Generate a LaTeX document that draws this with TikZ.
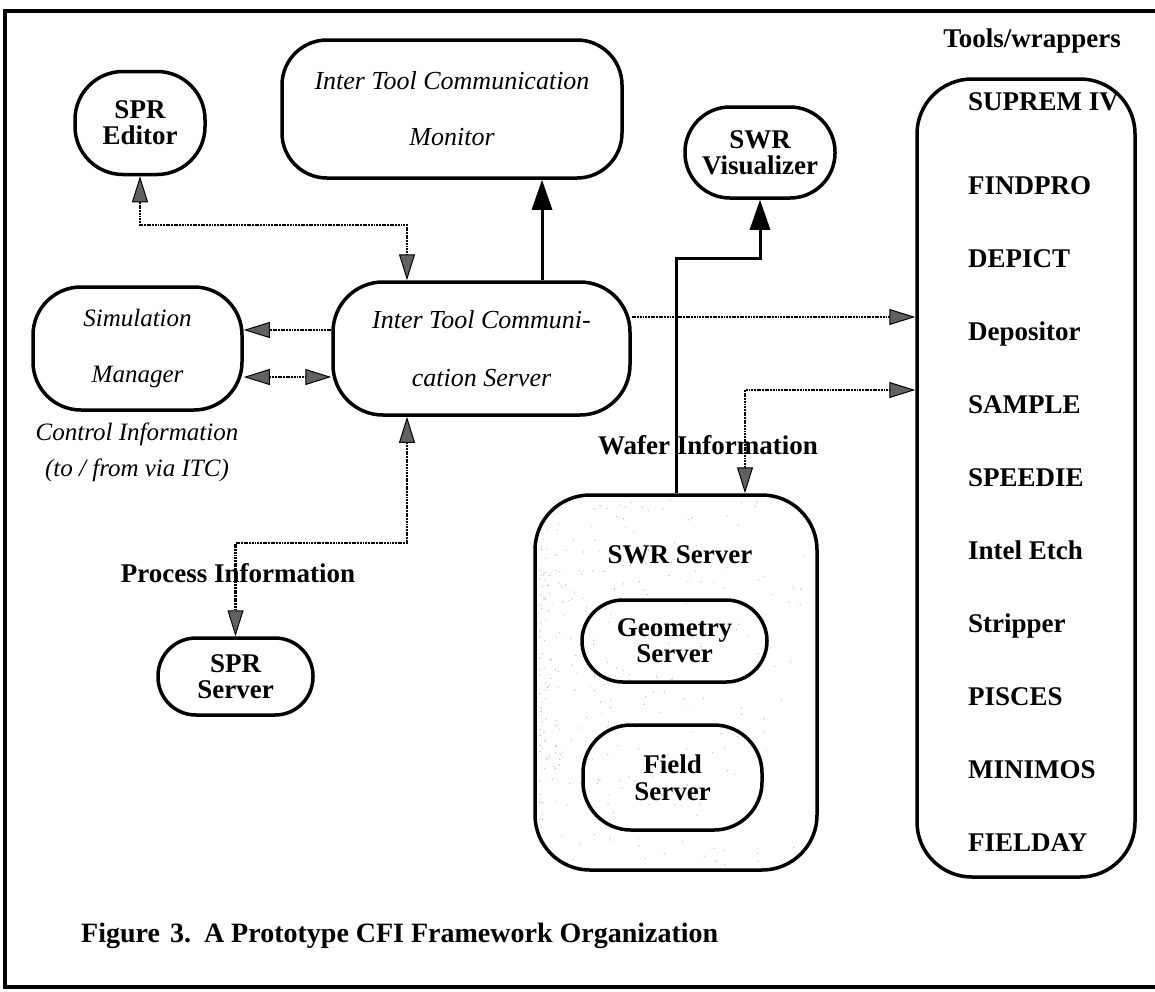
\documentclass[tikz,border=0pt]{standalone}
\usepackage{fontspec}
\setmainfont{Liberation Serif}
\usetikzlibrary{arrows.meta,calc}

\begin{document}
\begin{tikzpicture}[x=1pt,y=-1pt,
  box/.style={draw, line width=3.5pt, rounded corners=#1, inner sep=0pt},
  bf/.style={font=\fontsize{27}{26}\selectfont\bfseries, align=center, inner sep=0pt},
  it/.style={font=\fontsize{26}{30}\selectfont\itshape, align=center, inner sep=0pt},
  tool/.style={font=\fontsize{27}{24}\selectfont\bfseries, anchor=base west, inner sep=0pt},
  hd/.tip={Triangle[length=26pt,width=16pt,fill=black!62,line width=1pt]},
  stip/.style={line width=2.6pt, dash pattern=on 1.9pt off 0.8pt},
  solidarrow/.style={line width=3pt, -{Triangle[length=30pt,width=20pt]}},
]
\useasboundingbox (0,0) rectangle (1155,991);

% frame
\draw[line width=4pt] (1155,11) -- (5,11) -- (5,987) -- (1155,987);

% speckled shading inside the SWR server box
\begin{scope}
  \clip[rounded corners=55] (535,495) rectangle (817,870);
  \pgfmathsetseed{11}
  \foreach \i in {1,...,320}{
    \pgfmathsetmacro\px{540+270*rnd^2.4}
    \pgfmathsetmacro\py{500+365*rnd}
    \fill[gray!55] (\px,\py) circle (0.7pt);
  }
\end{scope}

% nodes
\node[box=48, bf, minimum width=130, minimum height=103] (sprE) at (140,123) {SPR\\Editor};
\node[box=45, it, minimum width=340, minimum height=138] (mon) at (452,109) {Inter Tool Communication\\[26pt]Monitor};
\node[box=45, bf, minimum width=150, minimum height=91] (vis) at (760,152.5) {SWR\\Visualizer};
\node[box=50, it, minimum width=297, minimum height=133] (itcS) at (481.5,348.5) {Inter Tool Communi-\\[28pt]cation Server};
\node[box=48, it, font=\fontsize{25}{30}\selectfont\itshape, minimum width=209, minimum height=123] (sim) at (137.5,348.5) {Simulation\\[26pt]Manager};
\node[it, font=\fontsize{25}{36}\selectfont\itshape] (ctl) at (137,452) {Control Information\\(to / from via ITC)};
\node[box=38, bf, minimum width=155, minimum height=77] (sprS) at (235.5,676.5) {SPR\\Server};

\node[box=55, minimum width=282, minimum height=375] (swr) at (676,682.5) {};
\node[bf] (swrT) at (680,555) {SWR Server};
\node[box=41, bf, minimum width=185, minimum height=82] (geo) at (674.5,641) {Geometry\\Server};
\node[box=48, bf, font=\fontsize{27}{27}\selectfont\bfseries, minimum width=179, minimum height=105] (fld) at (672.5,777.5) {Field\\Server};

\node[box=55, minimum width=218, minimum height=798] (tools) at (1026,478) {};
\node[bf] (toolsT) at (1032,41) {Tools/wrappers};
\node[tool] (t1) at (968,110) {SUPREM IV};
\node[tool] (t2) at (968,194) {FINDPRO};
\node[tool] (t3) at (968,267) {DEPICT};
\node[tool] (t4) at (968,340) {Depositor};
\node[tool] (t5) at (968,413) {SAMPLE};
\node[tool] (t6) at (968,486) {SPEEDIE};
\node[tool] (t7) at (968,559) {Intel Etch};
\node[tool] (t8) at (968,632) {Stripper};
\node[tool] (t9) at (968,705) {PISCES};
\node[tool] (t10) at (968,778) {MINIMOS};
\node[tool] (t11) at (968,851) {FIELDAY};

\node[bf] (procT) at (238,573) {Process Information};
\node[bf] (wafT) at (708,445) {Wafer Information};
\node[bf, font=\fontsize{28}{26}\selectfont\bfseries, anchor=base west] (cap) at (81,942) {Figure\hspace{10pt}3.\hspace{13pt}A Prototype CFI Framework Organization};

% junction points of the connectors
\coordinate (j1) at (407,225);
\coordinate (j2) at (407,543);
\coordinate (m1) at (542,0);
\coordinate (v1) at (676,258);
\coordinate (w1) at (745,390);
\coordinate (a1) at ([yshift=31.5pt]itcS.east);
\coordinate (s1) at ([yshift=18.5pt]itcS.west);
\coordinate (s2) at ([yshift=-28.5pt]itcS.west);

% solid connectors
\draw[solidarrow] (m1 |- itcS.north) -- (m1 |- mon.south);
\draw[solidarrow] (v1 |- swr.north) -- (v1) -| (vis.south);

% stippled connectors
\draw[stip, {hd}-{hd}] (sprE.south) |- (j1) -- (j1 |- itcS.north);
\draw[stip, {hd}-{hd}] (j2 |- itcS.south) -- (j2) -| (sprS.north);
\draw[stip, -{hd}] (s1) -- (s1 -| sim.east);
\draw[stip, {hd}-{hd}] (s2 -| sim.east) -- (s2);
\draw[stip, -{hd}] (a1) -- (a1 -| tools.west);
\draw[stip, {hd}-{hd}] (w1 |- swr.north) |- (w1 -| tools.west);

\end{tikzpicture}
\end{document}
